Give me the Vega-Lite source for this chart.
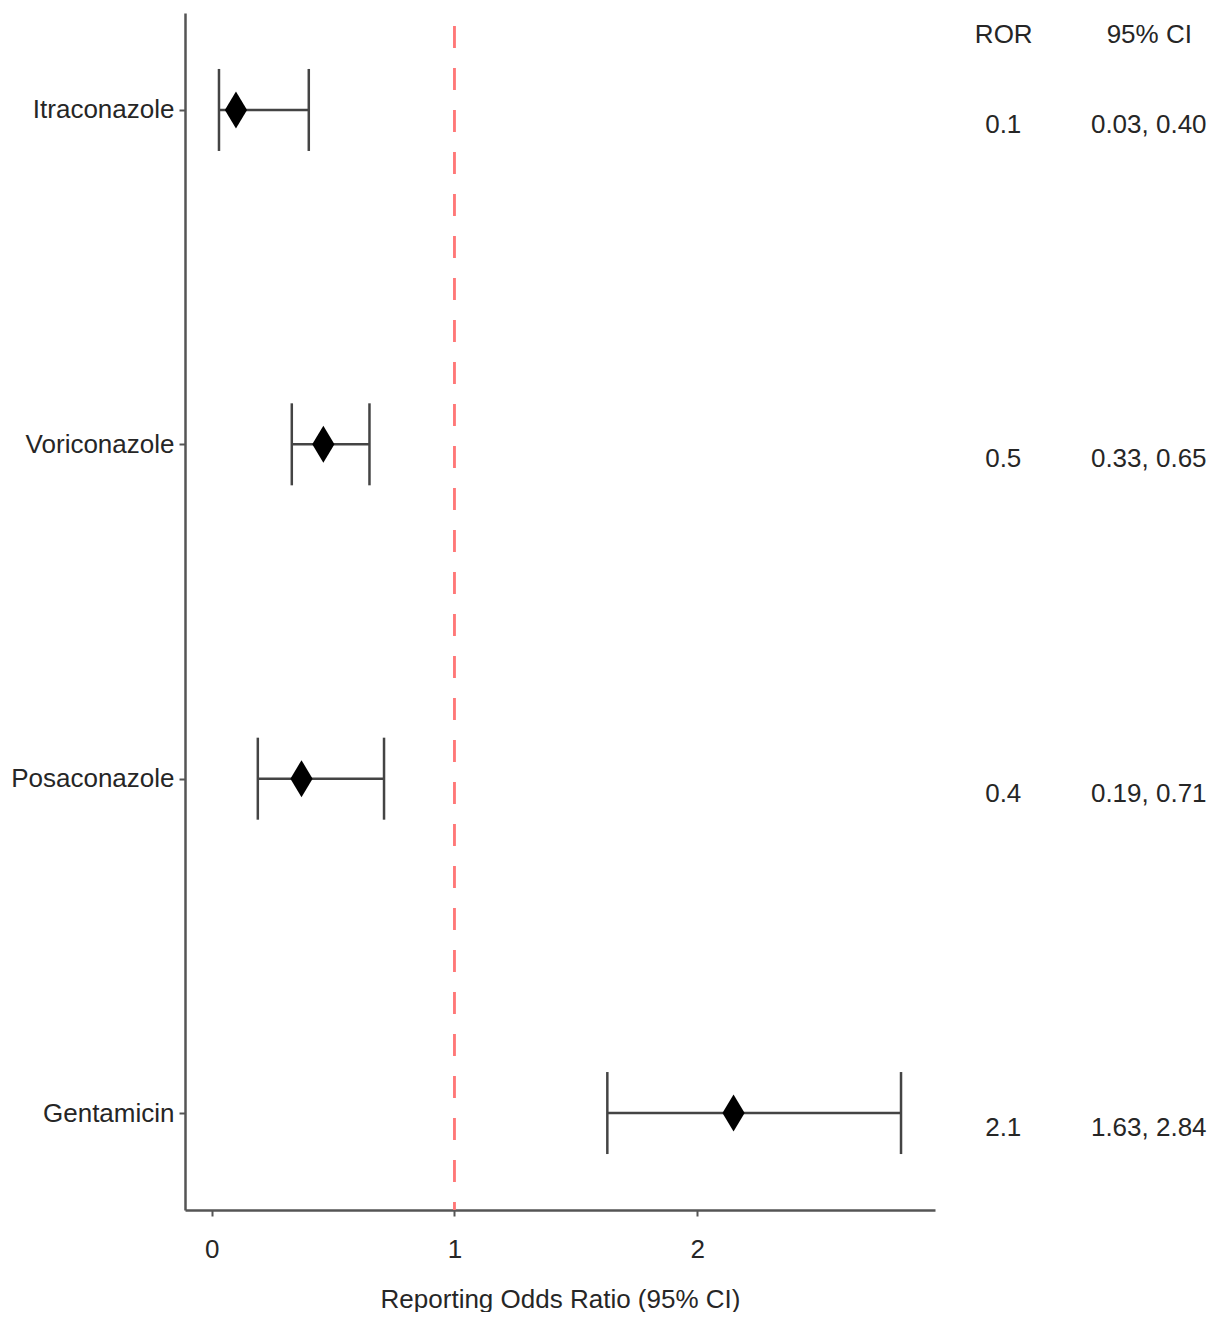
{
  "$schema": "https://vega.github.io/schema/vega-lite/v6.json",
  "padding": {"left": 10, "top": 12, "right": 0, "bottom": 0},
  "spacing": 0,
  "bounds": "flush",
  "config": {
    "view": {"stroke": null},
    "font": "Liberation Sans, sans-serif",
    "axis": {"grid": false, "labelFont": "Liberation Sans, sans-serif", "titleFont": "Liberation Sans, sans-serif"}
  },
  "data": {
    "values": [
      {"drug": "Itraconazole", "estimate": 0.10, "lower": 0.03, "upper": 0.40, "ROR": "0.1", "95% CI": "0.03, 0.40"},
      {"drug": "Voriconazole", "estimate": 0.46, "lower": 0.33, "upper": 0.65, "ROR": "0.5", "95% CI": "0.33, 0.65"},
      {"drug": "Posaconazole", "estimate": 0.37, "lower": 0.19, "upper": 0.71, "ROR": "0.4", "95% CI": "0.19, 0.71"},
      {"drug": "Gentamicin", "estimate": 2.15, "lower": 1.63, "upper": 2.84, "ROR": "2.1", "95% CI": "1.63, 2.84"}
    ]
  },
  "hconcat": [
    {
      "width": 750,
      "height": 1197,
      "encoding": {
        "y": {
          "field": "drug", "type": "nominal",
          "sort": ["Itraconazole", "Voriconazole", "Posaconazole", "Gentamicin"],
          "scale": {"type": "point", "padding": 0.29},
          "axis": {"title": null, "labelFontSize": 26, "labelLimit": 400, "labelColor": "#262626", "labelPadding": 5, "tickSize": 6, "tickColor": "#555555", "tickWidth": 2, "domainColor": "#555555", "domainWidth": 2.5}
        }
      },
      "layer": [
        {
          "mark": {"type": "rule", "color": "#FF7777", "strokeWidth": 2, "strokeDash": [22, 20], "strokeDashOffset": 29},
          "encoding": {"x": {"datum": 1, "type": "quantitative"}, "y": null}
        },
        {
          "mark": {"type": "rule", "color": "#444444", "strokeWidth": 2.5},
          "encoding": {
            "x": {
              "field": "lower", "type": "quantitative",
              "scale": {"domain": [-0.11, 2.98], "nice": false, "zero": false},
              "axis": {"values": [0, 1, 2], "format": "d", "title": "Reporting Odds Ratio (95% CI)", "titleFontSize": 26, "titleFontWeight": "normal", "titleColor": "#262626", "titlePadding": 24, "labelFontSize": 26, "labelColor": "#262626", "labelPadding": 20, "tickSize": 6, "tickColor": "#555555", "tickWidth": 2, "domainColor": "#555555", "domainWidth": 2.5}
            },
            "x2": {"field": "upper"}
          }
        },
        {
          "mark": {"type": "tick", "color": "#444444", "opacity": 1, "thickness": 2.5, "size": 82, "orient": "vertical"},
          "encoding": {"x": {"field": "lower", "type": "quantitative"}}
        },
        {
          "mark": {"type": "tick", "color": "#444444", "opacity": 1, "thickness": 2.5, "size": 82, "orient": "vertical"},
          "encoding": {"x": {"field": "upper", "type": "quantitative"}}
        },
        {
          "mark": {"type": "point", "shape": "M0,-1L0.6,0L0,1L-0.6,0Z", "filled": true, "color": "#000000", "opacity": 1, "size": 1369},
          "encoding": {"x": {"field": "estimate", "type": "quantitative"}}
        }
      ]
    },
    {
      "width": 282,
      "height": 1197,
      "transform": [{"fold": ["ROR", "95% CI"], "as": ["col", "val"]}],
      "mark": {"type": "text", "fontSize": 26, "color": "#262626", "dy": 15},
      "encoding": {
        "x": {
          "field": "col", "type": "nominal",
          "scale": {"type": "point", "padding": 0.469, "domain": ["ROR", "95% CI"]},
          "axis": {"orient": "top", "title": null, "domain": false, "ticks": false, "tickSize": 0, "labelFontSize": 26, "labelColor": "#262626", "labelPadding": -34, "labelAngle": 0}
        },
        "y": {
          "field": "drug", "type": "nominal",
          "sort": ["Itraconazole", "Voriconazole", "Posaconazole", "Gentamicin"],
          "scale": {"type": "point", "padding": 0.29},
          "axis": null
        },
        "text": {"field": "val"}
      }
    }
  ]
}
